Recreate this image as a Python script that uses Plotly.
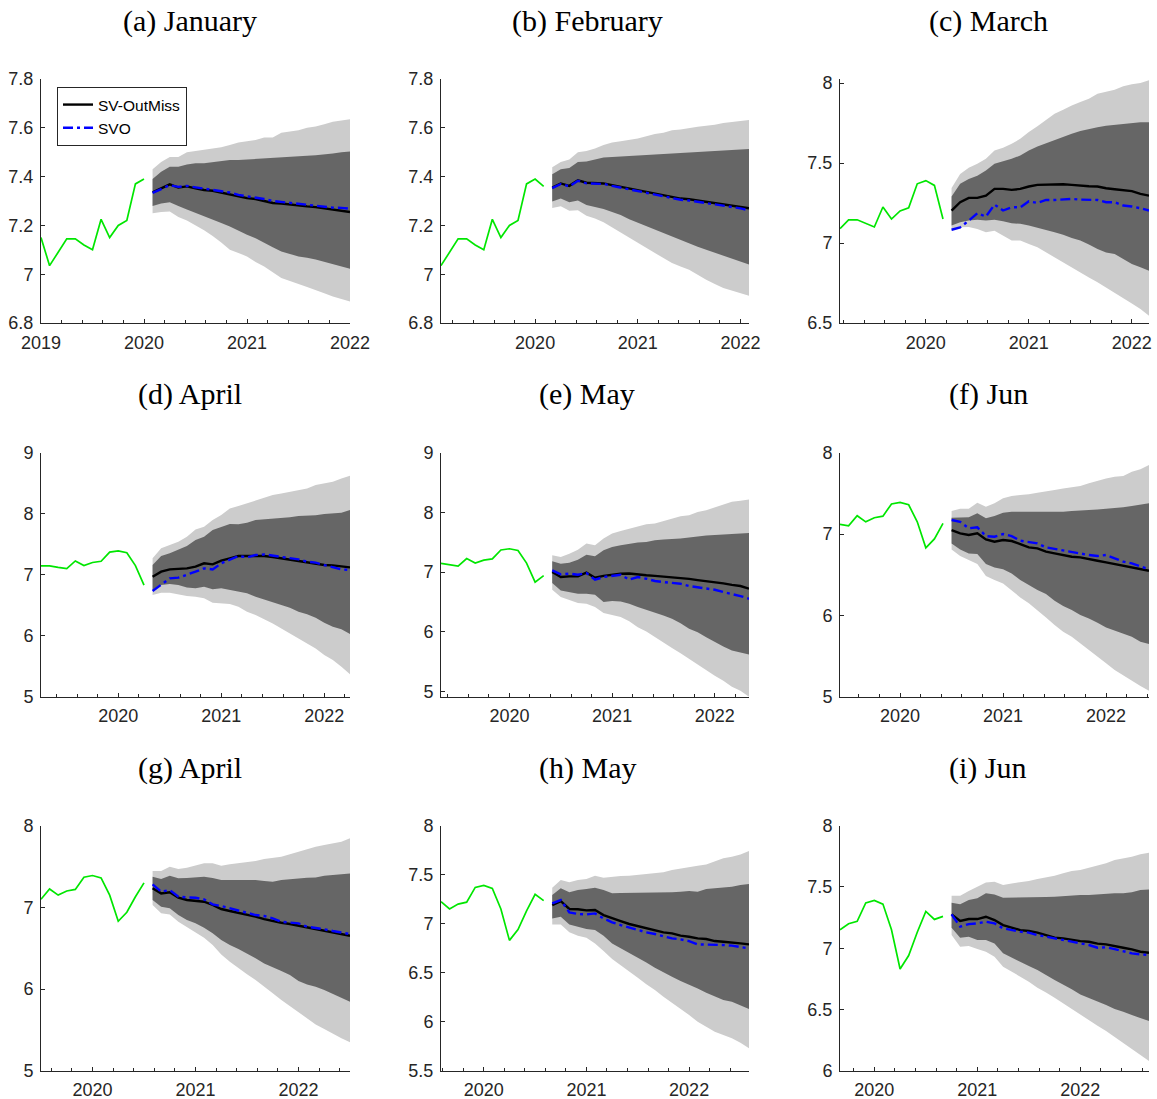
import plotly.graph_objects as go

# ---------------- data ----------------
# observed series, monthly, Jan 2019 .. Sep 2020
history = [7.15, 7.035, 7.09, 7.145, 7.145, 7.12, 7.10, 7.225, 7.15, 7.20, 7.22, 7.37,
           7.39, 7.36, 7.15, 6.83, 6.94, 7.13, 7.30, 7.235, 7.26]
hist_start_year = 2019

titles = ["(a) January", "(b) February", "(c) March",
          "(d) April", "(e) May", "(f) Jun",
          "(g) April", "(h) May", "(i) Jun"]
# month offset (from Jan 2019) where each panel's history window begins
panel_start_month = [0, 1, 2, 3, 4, 5, 6, 7, 8]
x_tick_years = [2019, 2020, 2021, 2022]

# 24-month forecast paths: lu/ll = light band upper/lower, du/dl = dark band, m = SV-OutMiss, s = SVO
a_lu = [7.43, 7.46, 7.48, 7.48, 7.50, 7.505, 7.51, 7.515, 7.52, 7.53, 7.54, 7.545, 7.55, 7.56, 7.56, 7.58, 7.585, 7.59, 7.60, 7.605, 7.615, 7.625, 7.63, 7.635]
a_du = [7.39, 7.42, 7.44, 7.44, 7.45, 7.455, 7.455, 7.46, 7.465, 7.468, 7.468, 7.47, 7.47, 7.472, 7.475, 7.478, 7.48, 7.482, 7.485, 7.488, 7.49, 7.495, 7.50, 7.503]
a_dl = [7.28, 7.29, 7.295, 7.28, 7.265, 7.25, 7.237, 7.223, 7.21, 7.196, 7.18, 7.162, 7.147, 7.13, 7.11, 7.093, 7.083, 7.073, 7.067, 7.06, 7.052, 7.043, 7.032, 7.022]
a_ll = [7.25, 7.255, 7.257, 7.234, 7.22, 7.2, 7.18, 7.157, 7.13, 7.10, 7.087, 7.073, 7.05, 7.032, 7.008, 6.984, 6.972, 6.96, 6.948, 6.936, 6.922, 6.909, 6.898, 6.888]
a_m = [7.335, 7.352, 7.368, 7.355, 7.36, 7.352, 7.345, 7.342, 7.335, 7.328, 7.318, 7.312, 7.308, 7.30, 7.292, 7.29, 7.285, 7.28, 7.278, 7.275, 7.27, 7.266, 7.262, 7.255]
a_s = [7.333, 7.35, 7.365, 7.358, 7.362, 7.356, 7.35, 7.346, 7.34, 7.335, 7.325, 7.32, 7.315, 7.308, 7.3, 7.296, 7.29, 7.286, 7.283, 7.28, 7.277, 7.273, 7.272, 7.268]

b_lu = [7.438, 7.46, 7.47, 7.50, 7.505, 7.515, 7.53, 7.54, 7.545, 7.55, 7.556, 7.565, 7.575, 7.58, 7.59, 7.593, 7.60, 7.604, 7.608, 7.612, 7.62, 7.625, 7.628, 7.632]
b_du = [7.41, 7.43, 7.435, 7.46, 7.462, 7.47, 7.478, 7.48, 7.482, 7.485, 7.487, 7.49, 7.493, 7.495, 7.497, 7.498, 7.5, 7.502, 7.503, 7.505, 7.506, 7.508, 7.51, 7.513]
b_dl = [7.298, 7.31, 7.295, 7.302, 7.284, 7.275, 7.267, 7.255, 7.243, 7.225, 7.209, 7.195, 7.182, 7.168, 7.155, 7.14, 7.127, 7.113, 7.10, 7.087, 7.073, 7.062, 7.052, 7.04]
b_ll = [7.271, 7.278, 7.26, 7.262, 7.24, 7.228, 7.213, 7.192, 7.171, 7.15, 7.131, 7.11, 7.087, 7.066, 7.046, 7.032, 7.018, 6.998, 6.977, 6.96, 6.943, 6.933, 6.923, 6.912]
b_m = [7.355, 7.372, 7.362, 7.385, 7.375, 7.375, 7.372, 7.365, 7.358, 7.35, 7.343, 7.338, 7.33, 7.323, 7.318, 7.31, 7.307, 7.302, 7.295, 7.29, 7.288, 7.282, 7.277, 7.27]
b_s = [7.353, 7.37, 7.36, 7.383, 7.372, 7.372, 7.37, 7.362, 7.355, 7.347, 7.34, 7.335, 7.327, 7.32, 7.314, 7.305, 7.302, 7.297, 7.29, 7.285, 7.282, 7.276, 7.27, 7.262]

c_lu = [7.344, 7.432, 7.47, 7.495, 7.526, 7.578, 7.595, 7.62, 7.651, 7.693, 7.729, 7.766, 7.808, 7.833, 7.86, 7.881, 7.902, 7.933, 7.944, 7.958, 7.979, 7.992, 8.0, 8.017]
c_du = [7.29, 7.37, 7.40, 7.42, 7.453, 7.495, 7.511, 7.526, 7.547, 7.578, 7.603, 7.624, 7.645, 7.662, 7.683, 7.70, 7.714, 7.724, 7.733, 7.738, 7.745, 7.75, 7.754, 7.755]
c_dl = [7.109, 7.13, 7.14, 7.145, 7.14, 7.145, 7.136, 7.123, 7.12, 7.109, 7.098, 7.081, 7.067, 7.052, 7.031, 7.015, 6.99, 6.962, 6.941, 6.931, 6.90, 6.868, 6.848, 6.827]
c_ll = [7.077, 7.098, 7.10, 7.088, 7.067, 7.077, 7.046, 7.015, 7.015, 6.994, 6.973, 6.942, 6.91, 6.879, 6.848, 6.816, 6.785, 6.754, 6.722, 6.691, 6.656, 6.622, 6.587, 6.545]
c_m = [7.203, 7.255, 7.282, 7.282, 7.296, 7.338, 7.338, 7.332, 7.338, 7.353, 7.363, 7.365, 7.367, 7.367, 7.363, 7.357, 7.355, 7.353, 7.342, 7.336, 7.328, 7.324, 7.307, 7.296]
c_s = [7.083, 7.098, 7.14, 7.186, 7.165, 7.24, 7.203, 7.223, 7.223, 7.261, 7.25, 7.269, 7.269, 7.271, 7.276, 7.271, 7.269, 7.269, 7.255, 7.255, 7.234, 7.228, 7.217, 7.203]

d_lu = [7.268, 7.432, 7.486, 7.541, 7.623, 7.743, 7.787, 7.896, 7.978, 8.087, 8.126, 8.169, 8.224, 8.262, 8.306, 8.333, 8.361, 8.388, 8.415, 8.47, 8.497, 8.525, 8.579, 8.623]
d_du = [7.158, 7.306, 7.35, 7.404, 7.47, 7.568, 7.623, 7.732, 7.787, 7.831, 7.826, 7.852, 7.896, 7.907, 7.912, 7.923, 7.94, 7.962, 7.967, 7.973, 7.995, 8.005, 8.016, 8.06]
d_dl = [6.749, 6.831, 6.847, 6.831, 6.792, 6.776, 6.803, 6.76, 6.776, 6.76, 6.721, 6.694, 6.639, 6.601, 6.557, 6.503, 6.459, 6.393, 6.35, 6.295, 6.213, 6.148, 6.104, 6.027]
d_ll = [6.667, 6.705, 6.705, 6.683, 6.65, 6.639, 6.612, 6.541, 6.53, 6.52, 6.475, 6.393, 6.339, 6.268, 6.202, 6.12, 6.038, 5.956, 5.874, 5.792, 5.683, 5.601, 5.492, 5.366]
d_m = [6.967, 7.049, 7.087, 7.098, 7.104, 7.131, 7.186, 7.169, 7.23, 7.268, 7.306, 7.306, 7.306, 7.306, 7.29, 7.268, 7.24, 7.218, 7.197, 7.186, 7.158, 7.153, 7.142, 7.12]
d_s = [6.732, 6.831, 6.94, 6.951, 6.995, 7.049, 7.104, 7.087, 7.186, 7.24, 7.306, 7.284, 7.322, 7.333, 7.311, 7.295, 7.279, 7.251, 7.213, 7.197, 7.158, 7.12, 7.087, 7.077]

e_lu = [7.28, 7.252, 7.308, 7.375, 7.476, 7.448, 7.56, 7.644, 7.689, 7.728, 7.756, 7.801, 7.812, 7.857, 7.896, 7.936, 7.952, 8.008, 8.036, 8.081, 8.12, 8.176, 8.193, 8.216]
e_du = [7.179, 7.14, 7.157, 7.207, 7.291, 7.263, 7.364, 7.42, 7.448, 7.476, 7.493, 7.504, 7.532, 7.543, 7.548, 7.56, 7.577, 7.599, 7.61, 7.622, 7.628, 7.639, 7.645, 7.655]
e_dl = [6.815, 6.692, 6.664, 6.636, 6.636, 6.619, 6.496, 6.513, 6.507, 6.468, 6.412, 6.373, 6.317, 6.272, 6.216, 6.143, 6.048, 5.992, 5.908, 5.824, 5.751, 5.684, 5.655, 5.616]
e_ll = [6.703, 6.58, 6.524, 6.479, 6.468, 6.412, 6.311, 6.272, 6.244, 6.176, 6.076, 6.003, 5.919, 5.824, 5.728, 5.639, 5.543, 5.459, 5.359, 5.263, 5.179, 5.078, 5.011, 4.91]
e_m = [7.0, 6.916, 6.927, 6.927, 6.99, 6.905, 6.935, 6.955, 6.97, 6.975, 6.955, 6.945, 6.935, 6.925, 6.91, 6.9, 6.886, 6.865, 6.85, 6.83, 6.81, 6.785, 6.765, 6.72]
e_s = [7.028, 6.961, 6.972, 6.955, 6.983, 6.871, 6.916, 6.933, 6.955, 6.871, 6.916, 6.888, 6.849, 6.832, 6.815, 6.804, 6.765, 6.748, 6.72, 6.703, 6.664, 6.636, 6.597, 6.552]

f_lu = [7.283, 7.311, 7.311, 7.385, 7.336, 7.377, 7.439, 7.467, 7.48, 7.488, 7.508, 7.52, 7.541, 7.561, 7.574, 7.59, 7.623, 7.656, 7.684, 7.705, 7.713, 7.766, 7.795, 7.848]
f_du = [7.201, 7.205, 7.205, 7.254, 7.193, 7.221, 7.262, 7.275, 7.275, 7.279, 7.279, 7.27, 7.275, 7.275, 7.283, 7.287, 7.295, 7.303, 7.311, 7.316, 7.328, 7.344, 7.357, 7.377]
f_dl = [6.885, 6.811, 6.762, 6.754, 6.631, 6.59, 6.566, 6.516, 6.434, 6.373, 6.311, 6.262, 6.18, 6.115, 6.066, 6.004, 5.963, 5.91, 5.852, 5.82, 5.779, 5.738, 5.676, 5.648]
f_ll = [6.811, 6.73, 6.68, 6.631, 6.484, 6.434, 6.393, 6.311, 6.221, 6.148, 6.066, 5.975, 5.881, 5.799, 5.738, 5.656, 5.566, 5.492, 5.41, 5.328, 5.254, 5.197, 5.131, 5.074]
f_m = [7.049, 7.008, 6.988, 7.008, 6.934, 6.906, 6.926, 6.914, 6.877, 6.836, 6.824, 6.783, 6.762, 6.742, 6.721, 6.713, 6.689, 6.672, 6.652, 6.631, 6.611, 6.59, 6.574, 6.549]
f_s = [7.172, 7.15, 7.07, 7.082, 6.975, 6.967, 7.0, 6.975, 6.918, 6.906, 6.885, 6.836, 6.816, 6.803, 6.783, 6.754, 6.742, 6.73, 6.742, 6.701, 6.66, 6.639, 6.598, 6.566]

g_lu = [7.445, 7.445, 7.498, 7.469, 7.486, 7.51, 7.539, 7.539, 7.51, 7.527, 7.539, 7.559, 7.567, 7.592, 7.608, 7.62, 7.649, 7.682, 7.71, 7.743, 7.763, 7.784, 7.804, 7.845]
g_du = [7.376, 7.347, 7.388, 7.355, 7.359, 7.363, 7.376, 7.359, 7.335, 7.335, 7.335, 7.335, 7.335, 7.322, 7.314, 7.335, 7.347, 7.355, 7.363, 7.367, 7.388, 7.396, 7.404, 7.416]
g_dl = [7.09, 7.008, 6.988, 6.906, 6.845, 6.804, 6.751, 6.682, 6.6, 6.539, 6.49, 6.437, 6.376, 6.314, 6.265, 6.22, 6.171, 6.098, 6.057, 6.029, 5.988, 5.947, 5.894, 5.845]
g_ll = [7.029, 6.927, 6.914, 6.824, 6.751, 6.694, 6.629, 6.539, 6.424, 6.335, 6.253, 6.18, 6.11, 6.029, 5.947, 5.865, 5.784, 5.714, 5.641, 5.567, 5.51, 5.457, 5.396, 5.347]
g_m = [7.233, 7.171, 7.184, 7.118, 7.09, 7.082, 7.069, 7.029, 6.98, 6.955, 6.935, 6.906, 6.886, 6.857, 6.833, 6.812, 6.796, 6.776, 6.755, 6.735, 6.722, 6.702, 6.682, 6.653]
g_s = [7.282, 7.192, 7.212, 7.131, 7.122, 7.118, 7.098, 7.037, 7.016, 6.988, 6.955, 6.927, 6.906, 6.894, 6.865, 6.824, 6.816, 6.804, 6.763, 6.751, 6.731, 6.71, 6.69, 6.673]

h_lu = [7.367, 7.446, 7.422, 7.446, 7.456, 7.49, 7.469, 7.48, 7.486, 7.49, 7.497, 7.503, 7.514, 7.524, 7.548, 7.565, 7.582, 7.592, 7.605, 7.633, 7.667, 7.684, 7.707, 7.741]
h_du = [7.293, 7.361, 7.32, 7.344, 7.354, 7.367, 7.344, 7.31, 7.313, 7.313, 7.32, 7.32, 7.32, 7.32, 7.32, 7.327, 7.333, 7.327, 7.354, 7.361, 7.367, 7.378, 7.395, 7.405]
h_dl = [7.054, 7.071, 6.993, 6.969, 6.946, 6.935, 6.878, 6.799, 6.748, 6.704, 6.653, 6.605, 6.551, 6.503, 6.459, 6.415, 6.374, 6.34, 6.296, 6.255, 6.221, 6.204, 6.17, 6.129]
h_ll = [6.993, 6.993, 6.912, 6.878, 6.857, 6.799, 6.721, 6.639, 6.578, 6.51, 6.449, 6.381, 6.323, 6.255, 6.187, 6.129, 6.068, 6.0, 5.949, 5.898, 5.864, 5.83, 5.786, 5.728]
h_m = [7.19, 7.231, 7.15, 7.147, 7.136, 7.139, 7.088, 7.054, 7.027, 6.997, 6.976, 6.952, 6.935, 6.912, 6.901, 6.878, 6.867, 6.85, 6.844, 6.823, 6.816, 6.81, 6.799, 6.789]
h_s = [7.207, 7.241, 7.116, 7.099, 7.095, 7.105, 7.054, 7.014, 6.986, 6.959, 6.935, 6.912, 6.895, 6.874, 6.85, 6.84, 6.823, 6.789, 6.789, 6.782, 6.782, 6.776, 6.765, 6.748]

i_lu = [7.429, 7.429, 7.467, 7.502, 7.537, 7.543, 7.516, 7.529, 7.537, 7.548, 7.565, 7.576, 7.592, 7.611, 7.63, 7.638, 7.657, 7.679, 7.693, 7.72, 7.733, 7.747, 7.766, 7.78]
i_du = [7.371, 7.358, 7.393, 7.407, 7.448, 7.439, 7.412, 7.412, 7.412, 7.415, 7.418, 7.418, 7.42, 7.426, 7.429, 7.434, 7.434, 7.439, 7.445, 7.448, 7.448, 7.456, 7.475, 7.48]
i_dl = [7.167, 7.086, 7.094, 7.067, 7.067, 7.039, 6.958, 6.922, 6.89, 6.854, 6.822, 6.781, 6.74, 6.699, 6.664, 6.623, 6.596, 6.563, 6.536, 6.503, 6.482, 6.454, 6.427, 6.405]
i_ll = [7.107, 7.012, 7.018, 6.993, 6.971, 6.931, 6.849, 6.808, 6.767, 6.727, 6.678, 6.639, 6.596, 6.55, 6.509, 6.46, 6.414, 6.367, 6.324, 6.278, 6.231, 6.182, 6.128, 6.079]
i_m = [7.276, 7.222, 7.238, 7.238, 7.257, 7.23, 7.189, 7.167, 7.148, 7.14, 7.127, 7.107, 7.086, 7.08, 7.067, 7.058, 7.053, 7.037, 7.031, 7.02, 7.004, 6.99, 6.971, 6.963]
i_s = [7.276, 7.176, 7.197, 7.203, 7.216, 7.203, 7.162, 7.148, 7.135, 7.127, 7.107, 7.094, 7.08, 7.067, 7.053, 7.039, 7.026, 7.004, 7.007, 6.993, 6.977, 6.958, 6.95, 6.944]

light_lo = [a_ll, b_ll, c_ll, d_ll, e_ll, f_ll, g_ll, h_ll, i_ll]
light_hi = [a_lu, b_lu, c_lu, d_lu, e_lu, f_lu, g_lu, h_lu, i_lu]
dark_lo = [a_dl, b_dl, c_dl, d_dl, e_dl, f_dl, g_dl, h_dl, i_dl]
dark_hi = [a_du, b_du, c_du, d_du, e_du, f_du, g_du, h_du, i_du]
sv_outmiss = [a_m, b_m, c_m, d_m, e_m, f_m, g_m, h_m, i_m]
svo = [a_s, b_s, c_s, d_s, e_s, f_s, g_s, h_s, i_s]

y_ranges = [[6.8, 7.8], [6.8, 7.8], [6.5, 8.025], [5, 9], [4.91, 9], [5, 8], [5, 8], [5.5, 8], [6, 8]]
y_dticks = [0.2, 0.2, 0.5, 1, 1, 1, 1, 0.5, 0.5]

# ---------------- layout geometry (pixels) ----------------
W, H = 1157, 1099
col_px = [(41, 350), (441, 749), (840, 1149)]
row_px = [(79, 323), (452.7, 696.7), (825.7, 1070.7)]
title_x_px = [190, 587, 988]
title_y_px = [21, 394, 768]

AX_COLOR = "#262626"
TICK_FONT = dict(family="Liberation Sans, Arial, sans-serif", size=18, color=AX_COLOR)

def month_to_year(m):
    return hist_start_year + m / 12.0

fig = go.Figure()
layout = dict(
    width=W, height=H, margin=dict(l=0, r=0, t=0, b=0, autoexpand=False),
    paper_bgcolor="white", plot_bgcolor="white",
    showlegend=True,
    legend=dict(x=57 / W, y=1 - 87 / H, xanchor="left", yanchor="top",
                bgcolor="white", bordercolor=AX_COLOR, borderwidth=1,
                font=dict(family="Liberation Sans, Arial, sans-serif", size=15.5, color="black"),
                itemwidth=30, tracegroupgap=0),
    annotations=[],
)

for p in range(9):
    r, c = divmod(p, 3)
    idx = "" if p == 0 else str(p + 1)
    xref, yref = "x" + idx, "y" + idx
    start = panel_start_month[p]

    hx = [month_to_year(start + j) for j in range(13)]
    hy = history[start:start + 13]
    fx = [month_to_year(start + 12 + k) for k in range(1, len(sv_outmiss[p]) + 1)]

    # light band
    fig.add_trace(go.Scatter(x=fx + fx[::-1], y=light_hi[p] + light_lo[p][::-1],
                             fill="toself", fillcolor="#cccccc", line=dict(width=0),
                             mode="lines", showlegend=False, hoverinfo="skip",
                             xaxis=xref, yaxis=yref))
    # dark band
    fig.add_trace(go.Scatter(x=fx + fx[::-1], y=dark_hi[p] + dark_lo[p][::-1],
                             fill="toself", fillcolor="#666666", line=dict(width=0),
                             mode="lines", showlegend=False, hoverinfo="skip",
                             xaxis=xref, yaxis=yref))
    # history
    fig.add_trace(go.Scatter(x=hx, y=hy, mode="lines",
                             line=dict(color="#00e600", width=1.7),
                             showlegend=False, xaxis=xref, yaxis=yref))
    # SV-OutMiss
    fig.add_trace(go.Scatter(x=fx, y=sv_outmiss[p], mode="lines", name="SV-OutMiss",
                             line=dict(color="black", width=2.4),
                             showlegend=(p == 0), xaxis=xref, yaxis=yref))
    # SVO
    fig.add_trace(go.Scatter(x=fx, y=svo[p], mode="lines", name="SVO",
                             line=dict(color="#0000ff", width=2.4, dash="10px,4px,3px,4px"),
                             showlegend=(p == 0), xaxis=xref, yaxis=yref))

    x0, x1 = col_px[c]
    t0, t1 = row_px[r]
    layout["xaxis" + idx] = dict(
        domain=[x0 / W, x1 / W], anchor=yref, automargin=False,
        range=[month_to_year(start), month_to_year(start + 36)],
        tickmode="array", tickvals=x_tick_years, ticktext=[str(v) for v in x_tick_years],
        ticks="inside", ticklen=4, tickwidth=1, tickcolor=AX_COLOR,
        minor=dict(tickmode="linear", tick0=2019, dtick=0.2, ticks="inside",
                   ticklen=3, tickwidth=1, tickcolor=AX_COLOR, showgrid=False),
        showline=True, linecolor=AX_COLOR, linewidth=1, mirror=False,
        showgrid=False, zeroline=False, tickfont=TICK_FONT, ticklabelstandoff=3,
    )
    layout["yaxis" + idx] = dict(
        domain=[1 - t1 / H, 1 - t0 / H], anchor=xref, automargin=False,
        range=y_ranges[p], tickmode="linear", tick0=0, dtick=y_dticks[p],
        ticks="inside", ticklen=4, tickwidth=1, tickcolor=AX_COLOR,
        showline=True, linecolor=AX_COLOR, linewidth=1, mirror=False,
        showgrid=False, zeroline=False, tickfont=TICK_FONT, ticklabelstandoff=3,
    )
    layout["annotations"].append(dict(
        text=titles[p], xref="paper", yref="paper",
        x=title_x_px[c] / W, y=1 - title_y_px[r] / H,
        xanchor="center", yanchor="middle", showarrow=False,
        font=dict(family="Liberation Serif, Times New Roman, serif", size=30, color="black"),
    ))

fig.update_layout(**layout)
fig.write_html("out.html",
               config={"displayModeBar": False, "staticPlot": True},
               post_script="document.body.style.margin='0px';document.body.style.overflow='hidden';")
